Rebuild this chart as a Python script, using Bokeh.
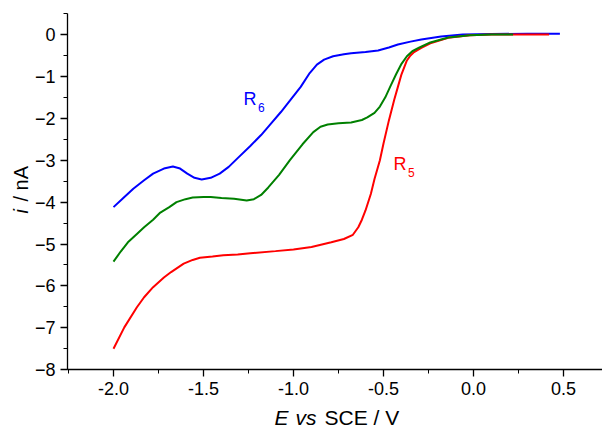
import numpy as np
from bokeh.plotting import figure
from bokeh.models import Label, SingleIntervalTicker, NumeralTickFormatter, Range1d
from bokeh.embed import file_html
from bokeh.resources import INLINE

# ---- data ----
E_r6 = [-2.0, -1.95, -1.89, -1.83, -1.78, -1.72, -1.67, -1.63, -1.59, -1.55, -1.51, -1.46,
        -1.41, -1.36, -1.31, -1.24, -1.18, -1.13, -1.07, -1.02, -0.96, -0.91, -0.87, -0.83,
        -0.78, -0.72, -0.68, -0.60, -0.53, -0.47, -0.42, -0.35, -0.29, -0.18, -0.06, 0.1,
        0.3, 0.48]
i_r6 = [-4.12, -3.92, -3.68, -3.48, -3.32, -3.20, -3.15, -3.20, -3.32, -3.42, -3.46, -3.42,
        -3.32, -3.16, -2.95, -2.66, -2.40, -2.15, -1.85, -1.58, -1.25, -0.92, -0.72, -0.60,
        -0.52, -0.47, -0.45, -0.42, -0.38, -0.31, -0.24, -0.17, -0.12, -0.05, 0.0, 0.01,
        0.02, 0.02]

E_mix = [-2.0, -1.96, -1.92, -1.87, -1.83, -1.78, -1.74, -1.69, -1.65, -1.60, -1.56, -1.50,
         -1.46, -1.40, -1.33, -1.26, -1.22, -1.18, -1.14, -1.08, -1.02, -0.95, -0.89, -0.85,
         -0.81, -0.75, -0.68, -0.62, -0.59, -0.55, -0.52, -0.49, -0.46, -0.43, -0.40, -0.37,
         -0.34, -0.30, -0.24, -0.14, -0.02, 0.1, 0.22]
i_mix = [-5.42, -5.18, -4.96, -4.76, -4.60, -4.42, -4.25, -4.12, -4.00, -3.93, -3.89, -3.88,
         -3.88, -3.90, -3.92, -3.96, -3.93, -3.83, -3.65, -3.35, -3.00, -2.62, -2.33, -2.20,
         -2.15, -2.12, -2.10, -2.04, -1.98, -1.87, -1.72, -1.50, -1.22, -0.95, -0.70, -0.52,
         -0.40, -0.31, -0.19, -0.07, -0.02, 0.0, 0.0]

E_r5 = [-2.0, -1.94, -1.87, -1.83, -1.78, -1.72, -1.68, -1.61, -1.56, -1.52, -1.45, -1.39,
        -1.31, -1.24, -1.10, -1.0, -0.90, -0.79, -0.72, -0.67, -0.64, -0.62, -0.60, -0.57,
        -0.55, -0.52, -0.50, -0.47, -0.44, -0.42, -0.40, -0.37, -0.35, -0.33, -0.29, -0.24,
        -0.14, -0.02, 0.1, 0.3, 0.42]
i_r5 = [-7.50, -6.99, -6.51, -6.27, -6.03, -5.80, -5.67, -5.47, -5.38, -5.33, -5.30, -5.27,
        -5.25, -5.22, -5.17, -5.13, -5.07, -4.96, -4.88, -4.78, -4.60, -4.42, -4.20, -3.80,
        -3.45, -3.00, -2.60, -2.05, -1.55, -1.25, -0.95, -0.62, -0.50, -0.42, -0.32, -0.21,
        -0.08, -0.02, 0.0, 0.0, 0.0]

x_ticks_interval = 0.5
y_ticks_interval = 1
x_label_parts = ["E", "vs", "SCE / V"]
y_label_parts = ["i", "/ nA"]
curve_names = [("R", "6"), ("R", "5")]

FONT = "Liberation Sans"
W, H = 602, 428

# pixel <-> data mapping of the reference
def xpx(px):
    return (px - 473) / 180.0

def ypx(py):
    return (34 - py) / 41.9

X0, X1 = -2.256, xpx(W)
Y0, Y1 = -8.0, 0.5
SHIFT = 0.4  # baseline compensation (fraction of font size)

p = figure(width=W, height=H, output_backend="svg", toolbar_location=None,
           x_range=Range1d(xpx(0), xpx(W)), y_range=Range1d(ypx(H), ypx(0)),
           min_border=0, min_border_left=0, min_border_right=0,
           min_border_top=0, min_border_bottom=0)
p.outline_line_color = None
p.xgrid.grid_line_color = None
p.ygrid.grid_line_color = None
p.background_fill_color = "white"
p.border_fill_color = "white"

p.line(E_r6, i_r6, line_color="#0000ff", line_width=2)
p.line(E_r5, i_r5, line_color="#ff0000", line_width=2)
p.line(E_mix, i_mix, line_color="#008000", line_width=2)

for ax in (p.xaxis[0], p.yaxis[0]):
    ax.axis_line_color = "black"
    ax.axis_line_width = 1.3
    ax.major_tick_line_color = "black"
    ax.minor_tick_line_color = "black"
    ax.major_tick_line_width = 1.3
    ax.minor_tick_line_width = 1
    ax.major_tick_in = 0
    ax.major_tick_out = 7
    ax.minor_tick_in = 0
    ax.minor_tick_out = 4
    ax.major_label_text_font = FONT
    ax.major_label_text_font_size = "18px"
    ax.major_label_text_color = "black"
    ax.major_label_standoff = 5

p.xaxis[0].ticker = SingleIntervalTicker(interval=x_ticks_interval, num_minor_ticks=2)
p.xaxis[0].formatter = NumeralTickFormatter(format="0.0")
p.xaxis[0].fixed_location = Y0
p.xaxis[0].bounds = (X0, X1)
p.yaxis[0].ticker = SingleIntervalTicker(interval=y_ticks_interval, num_minor_ticks=2)
p.yaxis[0].fixed_location = X0
p.yaxis[0].bounds = (Y0, Y1)

# axis titles (mixed italic)
XL_FS = 21
xl_x = [274, 295, 324]
xl_style = ["italic", "italic", "normal"]
for t, px, st in zip(x_label_parts, xl_x, xl_style):
    p.add_layout(Label(x=xpx(px), y=ypx(425 - SHIFT * XL_FS), text=t, text_font=FONT,
                       text_font_size=f"{XL_FS}px", text_font_style=st,
                       text_baseline="alphabetic", text_align="left", text_color="black"))

p.add_layout(Label(x=xpx(28 - SHIFT * 20), y=ypx(213), text=y_label_parts[0], angle=np.pi / 2,
                   text_font=FONT, text_font_size="20px", text_font_style="italic",
                   text_baseline="alphabetic", text_align="left", text_color="black"))
p.add_layout(Label(x=xpx(28 - SHIFT * 20), y=ypx(201), text=y_label_parts[1], angle=np.pi / 2,
                   text_font=FONT, text_font_size="20px", text_font_style="normal",
                   text_baseline="alphabetic", text_align="left", text_color="black"))

# curve labels R6 and R5 with subscripts
for (main, sub), px, py, col in zip(curve_names, [243, 393], [106, 171], ["#0000ff", "#ff0000"]):
    p.add_layout(Label(x=xpx(px), y=ypx(py - SHIFT * 18), text=main, text_font=FONT,
                       text_font_size="18px", text_baseline="alphabetic", text_align="left",
                       text_color=col))
    p.add_layout(Label(x=xpx(px + 14.5), y=ypx(py + 6 - SHIFT * 12), text=sub, text_font=FONT,
                       text_font_size="12px", text_baseline="alphabetic", text_align="left",
                       text_color=col))

open("out.html", "w").write(file_html(p, INLINE))
